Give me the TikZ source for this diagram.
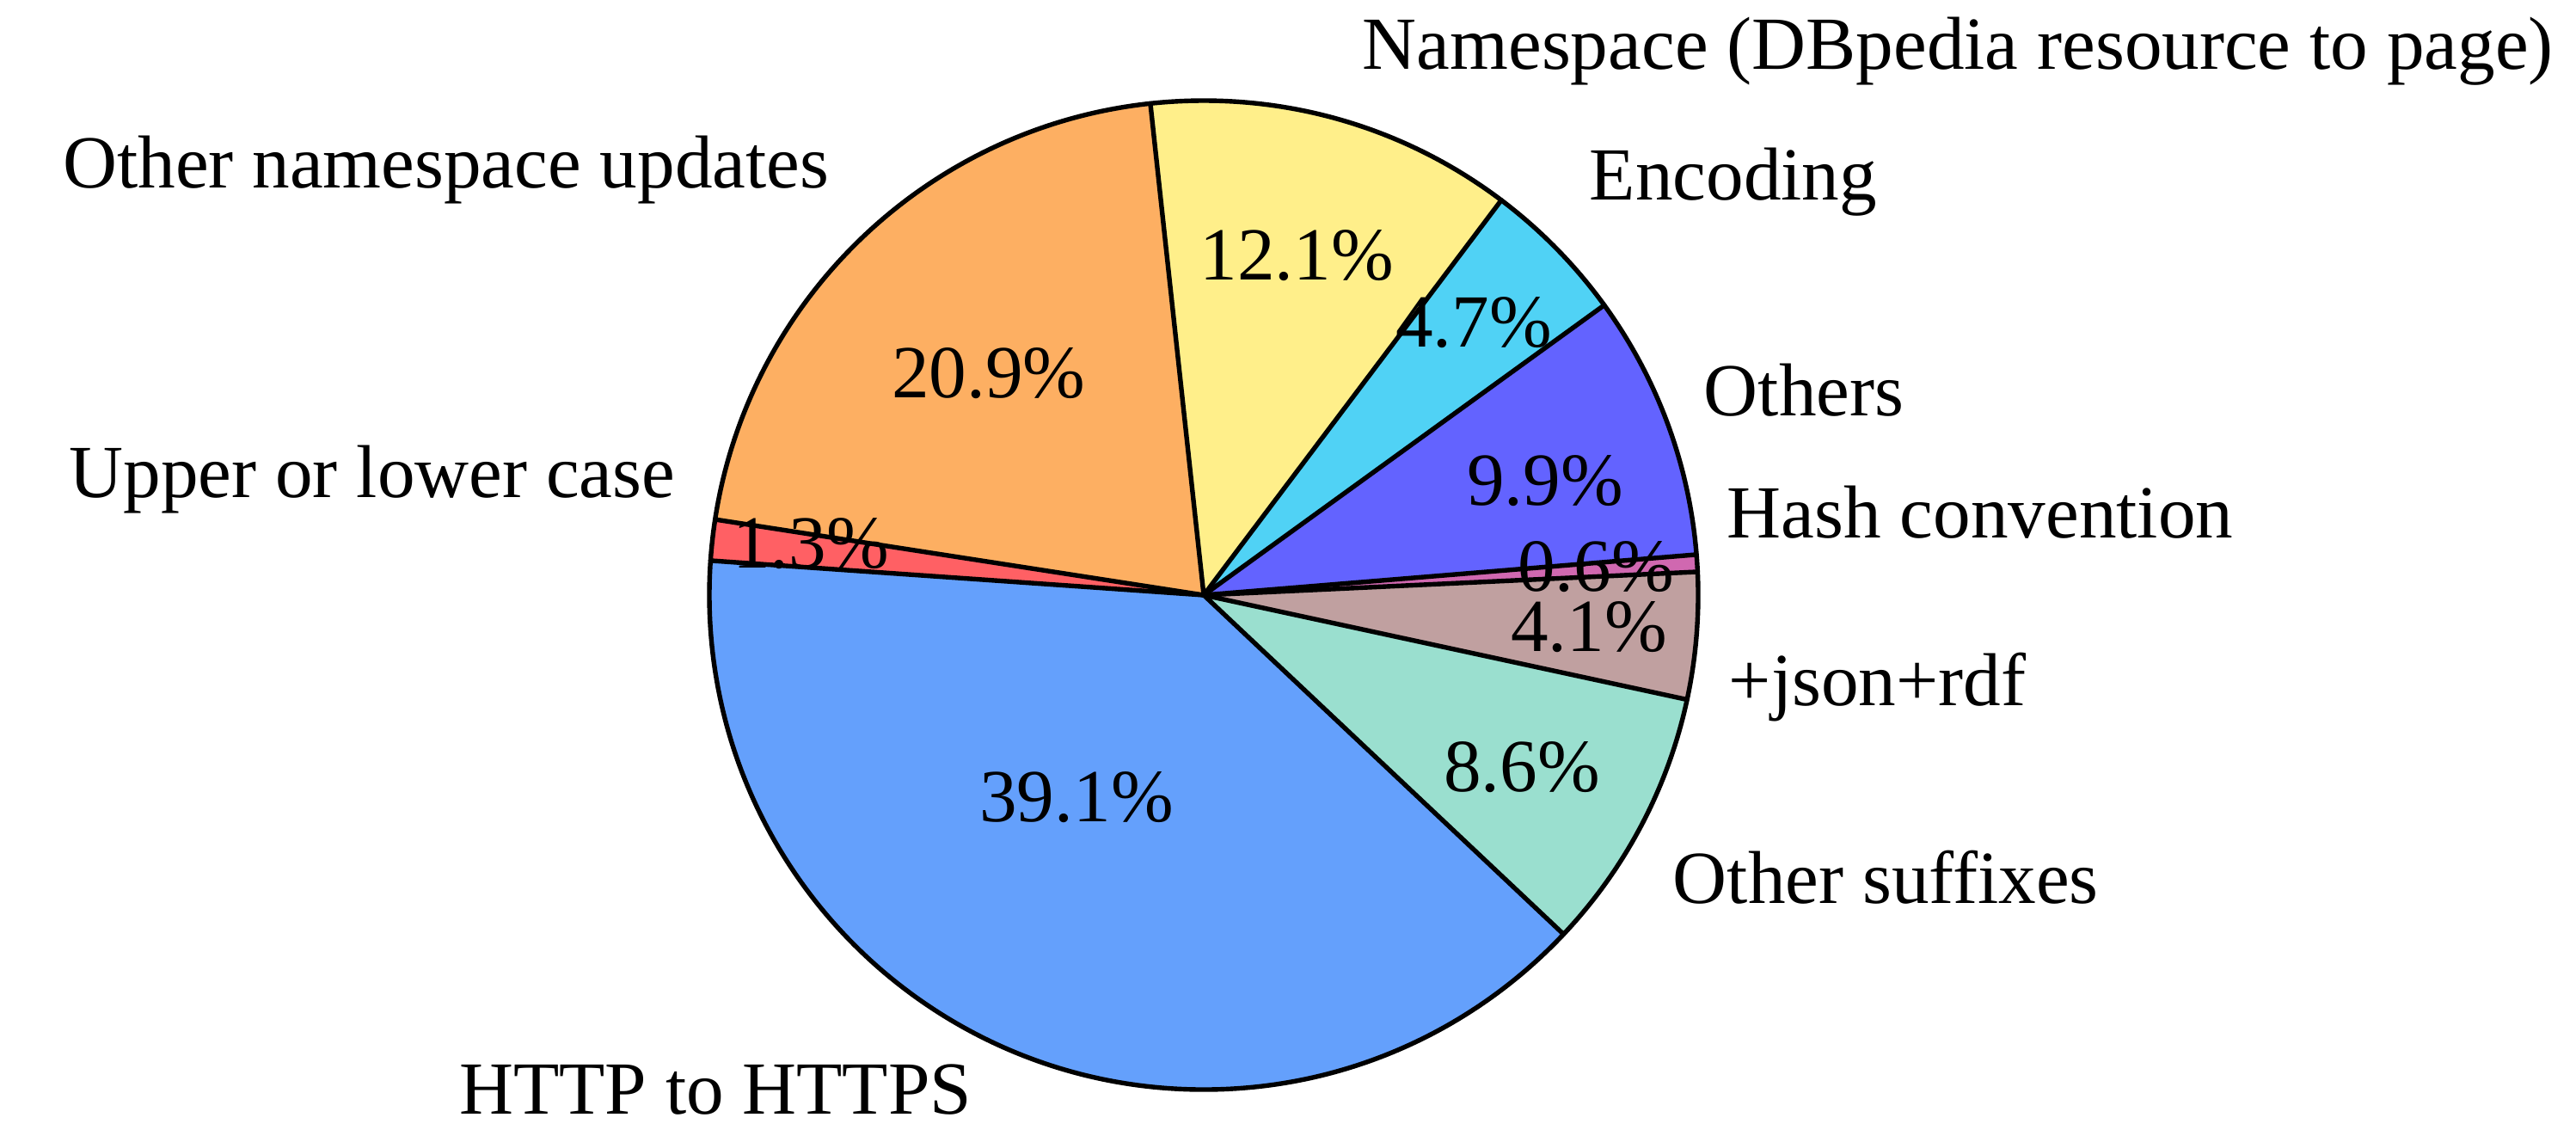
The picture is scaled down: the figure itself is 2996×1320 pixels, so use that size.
\documentclass[tikz,border=0pt]{standalone}
\usepackage{fontspec}
\setmainfont{Liberation Serif}
\begin{document}
\begin{tikzpicture}[x=0.25pt,y=0.25pt,
  lbl/.style={inner sep=0pt,anchor=base west,font=\fontsize{21.8pt}{26pt}\selectfont},
  lblr/.style={inner sep=0pt,anchor=base east,font=\fontsize{21.8pt}{26pt}\selectfont},
  pct/.style={inner sep=0pt,anchor=base,font=\fontsize{21.8pt}{26pt}\selectfont},
  rim/.style={line width=1.35pt,line join=round,line cap=round}]
\definecolor{cOrange}{RGB}{253,175,98}
\definecolor{cYellow}{RGB}{255,239,138}
\definecolor{cCyan}{RGB}{80,210,245}
\definecolor{cPurple}{RGB}{99,99,255}
\definecolor{cPink}{RGB}{208,104,176}
\definecolor{cBrown}{RGB}{192,160,160}
\definecolor{cTeal}{RGB}{154,223,207}
\definecolor{cBlue}{RGB}{100,160,252}
\definecolor{cRed}{RGB}{255,96,100}
\useasboundingbox (0,0) rectangle (2996,-1320);
\coordinate (C) at (1400,-692);
\newcommand\pieslice[3]{\fill[#1] (C) -- ++(#2:575) arc[start angle=#2, end angle=#3, radius=143.75pt] -- cycle;}
% fills
\pieslice{cYellow}{53.0}{96.2}
\pieslice{cOrange}{96.2}{171.2}
\pieslice{cRed}{171.2}{176.0}
\pieslice{cBlue}{176.0}{316.7}
\pieslice{cTeal}{-43.3}{-12.2}
\pieslice{cBrown}{-12.2}{2.7}
\pieslice{cPink}{2.7}{4.7}
\pieslice{cPurple}{4.7}{35.9}
\pieslice{cCyan}{35.9}{53.0}
% percentage labels
\node[pct] (p121) at (1508,-325) {12.1\%};
\node[pct] (p209) at (1150,-462) {20.9\%};
\node[pct] (p47)  at (1714,-403) {4.7\%};
\node[pct] (p99)  at (1797,-587) {9.9\%};
\node[pct] (p06)  at (1856,-687) {0.6\%};
\node[pct] (p41)  at (1848,-757) {4.1\%};
\node[pct] (p86)  at (1770,-920) {8.6\%};
\node[pct] (p391) at (1252,-955) {39.1\%};
\node[pct] (p13)  at (943,-660) {1.3\%};
% outlines
\foreach \a in {53.0,96.2,171.2,176.0,316.7,347.8,2.7,4.7,35.9}
  \draw[rim] (C) -- ++(\a:575);
\draw[rim] (C) circle[radius=143.75pt];
% category labels
\node[lbl]  (lNs)   at (1584,-80)   {Namespace (DBpedia resource to page)};
\node[lblr] (lOns)  at (965,-218)   {Other namespace updates};
\node[lbl]  (lEnc)  at (1848,-232)  {Encoding};
\node[lbl]  (lOth)  at (1981,-483)  {Others};
\node[lblr] (lUpp)  at (786,-578)   {Upper or lower case};
\node[lbl]  (lHash) at (2008,-625)  {Hash convention};
\node[lbl]  (lJson) at (2010,-820)  {+json+rdf};
\node[lbl]  (lSuf)  at (1945,-1050) {Other suffixes};
\node[lblr] (lHttp) at (1131,-1295) {HTTP to HTTPS};
\end{tikzpicture}
\end{document}
